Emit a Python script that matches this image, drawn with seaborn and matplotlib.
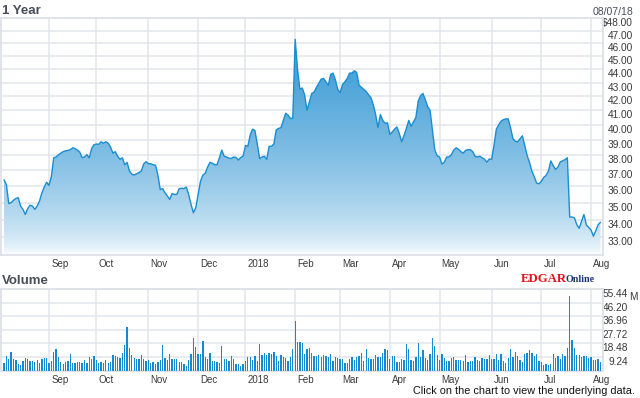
import numpy as np
import pandas as pd
import matplotlib
matplotlib.use("Agg")
import matplotlib.pyplot as plt
from matplotlib.colors import LinearSegmentedColormap
from matplotlib.transforms import ScaledTranslation
from matplotlib.ticker import NullLocator
import seaborn as sns

# ---------------- data ----------------
price = [
    36.4, 36.1, 34.95, 35.0, 35.15, 35.25, 35.3, 34.8, 34.6, 34.3,
    34.65, 34.85, 34.8, 34.6, 34.8, 35.1, 35.6, 35.95, 36.25, 36.05,
    36.6, 37.8, 37.85, 38.0, 38.1, 38.2, 38.25, 38.28, 38.33, 38.45,
    38.4, 38.3, 38.17, 37.8, 37.85, 38.0, 37.8, 38.4, 38.65, 38.7,
    38.68, 38.85, 38.75, 38.85, 38.75, 38.5, 38.1, 38.2, 37.9, 37.7,
    37.8, 37.35, 37.5, 36.95, 36.75, 36.7, 36.78, 36.85, 36.95, 37.4,
    37.55, 37.41, 37.42, 37.35, 37.32, 36.7, 35.8, 35.85, 35.6, 35.4,
    35.2, 35.55, 35.5, 35.5, 35.85, 35.88, 35.85, 35.95, 35.5, 34.9,
    34.4, 34.7, 35.5, 36.3, 36.7, 36.8, 37.2, 37.5, 37.45, 37.35,
    37.35, 37.8, 38.3, 37.9, 37.85, 37.78, 37.75, 37.85, 37.82, 37.65,
    37.82, 37.9, 38.6, 38.55, 39.3, 39.7, 39.6, 38.7, 37.75, 37.85,
    37.9, 37.7, 38.55, 38.55, 38.7, 39.65, 39.75, 39.8, 40.3, 40.8,
    40.66, 40.43, 40.45, 46.3, 44.0, 42.5, 42.6, 42.1, 41.0, 41.6,
    42.2, 42.3, 42.65, 42.95, 43.25, 43.3, 43.05, 42.8, 43.6, 43.7,
    43.2, 42.5, 42.25, 42.85, 43.05, 43.3, 43.7, 43.7, 43.87, 43.75,
    42.8, 42.65, 42.5, 42.35, 42.1, 41.9, 41.4, 40.7, 39.8, 40.7,
    40.3, 40.1, 40.13, 39.35, 39.5, 39.7, 39.85, 39.4, 38.85, 39.27,
    39.75, 40.3, 39.9, 40.2, 40.5, 41.65, 42.05, 42.2, 41.75, 41.25,
    41.0, 39.6, 38.3, 37.93, 37.85, 37.4, 37.5, 37.85, 37.85, 38.0,
    38.3, 38.45, 38.35, 38.2, 38.1, 38.28, 38.33, 38.33, 38.2, 37.9,
    37.85, 37.9, 37.8, 37.7, 37.52, 37.72, 37.7, 38.6, 39.7, 40.0,
    40.25, 40.35, 40.4, 40.4, 39.8, 39.05, 38.88, 38.85, 39.05, 39.25,
    38.6, 37.95, 37.5, 36.95, 36.6, 36.2, 36.15, 36.3, 36.55, 36.67,
    36.95, 37.6, 37.3, 37.05, 37.2, 37.53, 37.6, 37.68, 37.8, 34.15,
    34.15, 34.1, 33.7, 33.5, 33.9, 34.3, 33.7, 33.55, 33.4, 33.05,
    33.35, 33.7, 33.85,
]

volume = [  # millions of shares
    5.4, 10.0, 8.1, 12.9, 8.1, 7.2, 4.5, 3.8, 6.6, 8.8,
    8.1, 6.6, 6.6, 5.9, 7.2, 5.2, 7.7, 8.8, 8.8, 5.2,
    6.6, 12.7, 14.5, 9.5, 5.9, 4.5, 5.9, 6.6, 11.5, 5.2,
    5.2, 5.9, 5.9, 5.2, 7.2, 5.2, 9.5, 8.1, 10.2, 7.2,
    5.2, 5.9, 5.2, 7.2, 5.2, 5.9, 10.9, 10.2, 9.5, 8.8,
    12.2, 17.2, 29.6, 15.6, 10.9, 8.8, 8.1, 8.1, 10.9, 8.1,
    6.6, 7.2, 5.2, 5.9, 4.5, 5.9, 7.2, 17.2, 8.8, 7.2,
    11.5, 8.1, 8.1, 8.1, 5.9, 5.9, 4.5, 3.2, 7.2, 11.5,
    22.4, 16.3, 11.5, 11.5, 19.9, 9.5, 8.1, 12.2, 6.6, 6.6,
    5.9, 5.2, 16.5, 8.1, 8.1, 6.6, 10.2, 8.1, 4.5, 4.5,
    3.2, 4.5, 6.6, 9.5, 9.5, 7.2, 10.2, 6.6, 17.9, 10.9,
    12.2, 10.9, 12.2, 11.5, 12.9, 10.2, 6.6, 10.9, 9.5, 8.8,
    6.6, 9.5, 14.5, 33.7, 19.2, 19.2, 18.6, 11.5, 14.9, 15.6,
    12.2, 10.0, 10.0, 10.9, 9.5, 10.9, 10.2, 9.5, 11.5, 6.6,
    9.5, 8.8, 8.1, 8.1, 5.2, 5.2, 8.1, 9.5, 7.2, 9.5,
    10.2, 12.2, 6.6, 14.5, 8.8, 8.1, 8.1, 10.9, 9.5, 9.5,
    12.2, 14.5, 13.8, 8.1, 10.2, 10.2, 5.9, 5.9, 8.1, 7.2,
    17.9, 14.5, 7.2, 6.6, 9.5, 19.0, 9.5, 13.8, 8.8, 7.2,
    11.5, 21.9, 16.5, 10.9, 7.2, 11.5, 8.8, 6.6, 6.6, 8.8,
    9.5, 7.2, 7.2, 7.2, 6.6, 10.9, 5.9, 6.6, 6.6, 9.5,
    7.2, 6.6, 8.8, 8.1, 8.1, 10.9, 8.1, 8.1, 11.5, 7.2,
    11.5, 6.6, 5.2, 8.8, 14.5, 9.5, 12.9, 10.2, 7.2, 5.9,
    11.5, 12.2, 13.8, 12.2, 10.2, 11.5, 6.6, 5.9, 3.8, 4.5,
    3.8, 4.5, 11.5, 8.8, 10.2, 8.1, 11.5, 10.2, 15.6, 50.7,
    20.6, 15.6, 10.9, 10.9, 9.5, 10.2, 10.2, 8.8, 9.5, 7.2,
    7.2, 8.1, 5.9,
]

start_date = "2017-08-07"
end_date = "2018-08-07"
market_holidays = ["2017-09-04", "2017-11-23", "2017-12-25", "2018-01-01",
                   "2018-01-15", "2018-02-19", "2018-03-30", "2018-05-28",
                   "2018-07-04"]
month_labels = ["Sep", "Oct", "Nov", "Dec", "2018", "Feb", "Mar", "Apr",
                "May", "Jun", "Jul", "Aug"]
price_ticks = [33, 34, 35, 36, 37, 38, 39, 40, 41, 42, 43, 44, 45, 46, 47, 48]
price_tick_labels = ["33.00", "34.00", "35.00", "36.00", "37.00", "38.00",
                     "39.00", "40.00", "41.00", "42.00", "43.00", "44.00",
                     "45.00", "46.00", "47.00", "$48.00"]
vol_ticks = [9.24, 18.48, 27.72, 36.96, 46.20, 55.44]
vol_tick_labels = ["9.24", "18.48", "27.72", "36.96", "46.20", "55.44"]
price_range = (32, 48)
title_text = "1 Year"
date_text = "08/07/18"
volume_title = "Volume"
footer_text = "Click on the chart to view the underlying data."

# ---------------- style ----------------
sns.set_theme(style="white")
plt.rcParams["font.family"] = ["Liberation Sans", "DejaVu Sans"]

days = pd.bdate_range(start_date, end_date)
days = days[~days.isin(pd.to_datetime(market_holidays))]
n = min(len(days), len(price), len(volume))
df = pd.DataFrame({"i": np.arange(n), "date": days[:n],
                   "price": price[:n], "volume": volume[:n]})
month_pos = [i for i in range(1, n) if df.date[i].month != df.date[i - 1].month]

W, H = 640, 398
fig = plt.figure(figsize=(W / 100, H / 100), dpi=100)
fig.patch.set_facecolor("white")


def px_axes(l, t, r, b):
    return fig.add_axes([l / W, 1 - b / H, (r - l) / W, (b - t) / H])


ax = px_axes(1, 18.3, 603, 255)
axv = px_axes(1, 289, 603, 370.7)

FRAME = "#dde2e8"
GRID = "#e2e6ec"
LINE = "#1a8dd1"
TXT = "#3a3a3a"
XLIM = (-1.28, 253.06)

for a in (ax, axv):
    a.set_facecolor("white")
    for s in a.spines.values():
        s.set_visible(True)
        s.set_color(FRAME)
        s.set_linewidth(1.3)
    a.set_axisbelow(True)
    a.grid(True, color=GRID, lw=1.1)

# ---- price panel ----
ax.set_yscale("log")
sns.lineplot(data=df, x="i", y="price", ax=ax, color=LINE, lw=1.0, zorder=4)
poly = ax.fill_between(df.i, df.price, price_range[0], color="none", lw=0)
ax.set_xlim(*XLIM)
ax.set_ylim(*price_range)
ax.set_autoscale_on(False)
frac = np.linspace(0, 1, 256)[:, None] ** 0.6
cmap = LinearSegmentedColormap.from_list("g", ["#ffffff", "#2c93d2"])
im = ax.imshow(frac, extent=[0, 1, 0, 1], transform=ax.transAxes,
               origin="lower", cmap=cmap, vmin=0, vmax=1, aspect="auto",
               zorder=2, interpolation="bilinear")
im.set_clip_path(poly.get_paths()[0], transform=ax.transData)
ax.set_xlim(*XLIM)
ax.set_ylim(*price_range)
ax.yaxis.set_minor_locator(NullLocator())
ax.set_yticks(price_ticks)
ax.set_yticklabels(price_tick_labels)
ax.yaxis.set_minor_locator(NullLocator())
ax.set_xticks(month_pos)
ax.set_xticklabels(month_labels)
ax.set_xlabel("")
ax.set_ylabel("")

# ---- volume panel ----
sns.barplot(data=df, x="i", y="volume", ax=axv, native_scale=True,
            color="#1689d0", saturation=1, width=0.55, errorbar=None,
            linewidth=0, zorder=3)
axv.set_xlim(*XLIM)
axv.set_ylim(0, vol_ticks[-1])
axv.set_yticks(vol_ticks)
axv.set_yticklabels(vol_tick_labels)
axv.set_xticks(month_pos)
axv.set_xticklabels(month_labels)
axv.set_xlabel("")
axv.set_ylabel("")

# ---- ticks ----
for a, ypad in ((ax, 21.6), (axv, 18.0)):
    a.yaxis.tick_right()
    a.tick_params(axis="both", length=0, colors=TXT)
    a.tick_params(axis="y", pad=ypad, labelsize=7.3)
    a.tick_params(axis="x", pad=3.0, labelsize=7.0)
    for t in a.get_yticklabels():
        t.set_ha("right")
        t.set_va("top")
    for t in a.get_xticklabels():
        t.set_ha("left")
        t.set_transform(t.get_transform() +
                        ScaledTranslation(1.5 / 72, 0, fig.dpi_scale_trans))

# ---- texts ----
def ftext(x, y, s, **kw):
    fig.text(x / W, 1 - y / H, s, **kw)


ftext(2, 14, title_text, fontsize=9.5, fontweight="bold", color="#474c58",
      va="baseline", ha="left")
ftext(2, 284, volume_title, fontsize=9.5, fontweight="bold", color="#474c58",
      va="baseline", ha="left")
ftext(633, 14.7, date_text, fontsize=7.6, color="#4a4f5a", va="baseline",
      ha="right")
ftext(629, 299.5, "M", fontsize=7.3, color=TXT, va="baseline", ha="left")
ftext(521, 282, "EDGAR", fontsize=9.2, fontweight="bold", color="#e3141b",
      family=["Liberation Serif", "DejaVu Serif"], va="baseline", ha="left")
ftext(566, 282, "Online", fontsize=7.2, fontweight="bold", color="#1b3576",
      family=["Liberation Serif", "DejaVu Serif"], va="baseline", ha="left")
ftext(635, 394, footer_text, fontsize=7.8, color="#111111", va="baseline",
      ha="right")

fig.savefig("out.png", dpi=100, facecolor="white")
